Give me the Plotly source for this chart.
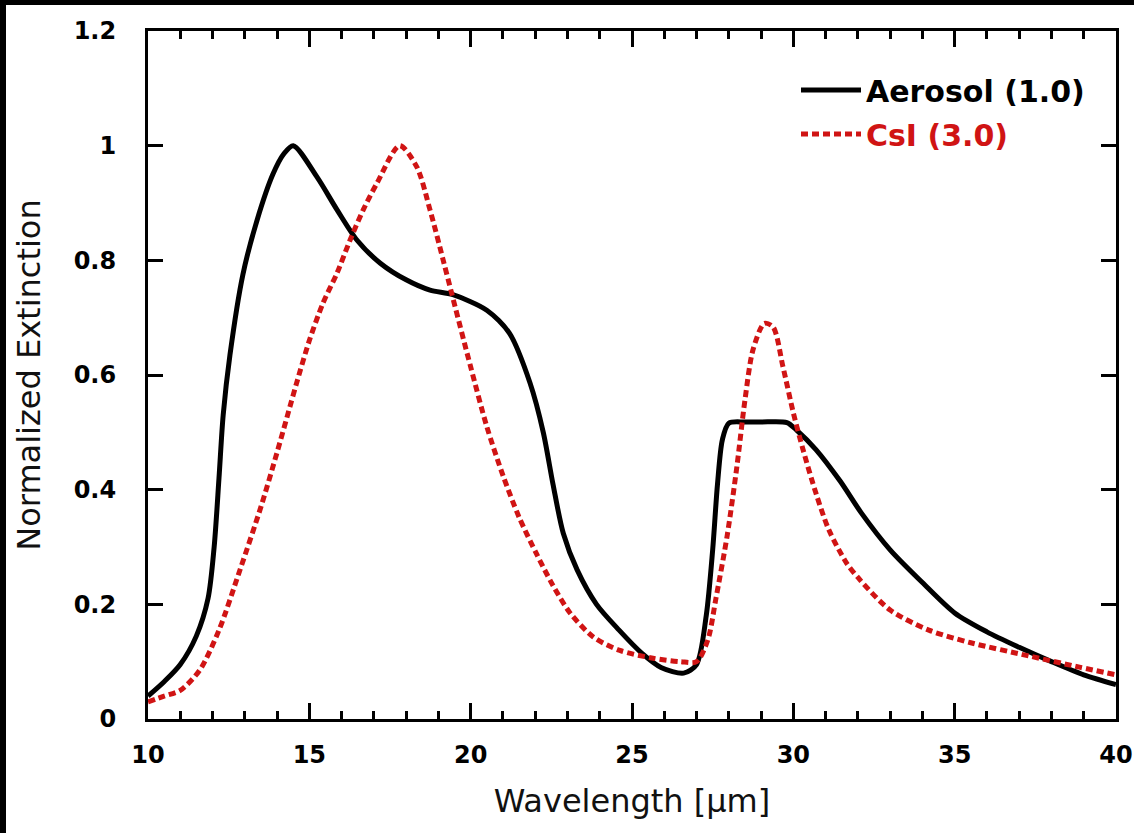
import plotly.graph_objects as go

# Aerosol (1.0) — black solid curve
aerosol_x = [10, 10.5, 11, 11.5, 11.86, 12.05, 12.2, 12.33, 12.54, 12.94, 13.38, 13.87, 14.2,
             14.5, 15.24, 15.86, 16.48, 17.2, 18.0, 18.74, 19.45, 20.5, 21.2, 21.84, 22.25,
             22.55, 22.87, 23.3, 23.9, 24.6, 25.3, 25.9, 26.6, 27.0, 27.3, 27.5, 27.65, 27.8,
             28.0, 28.5, 29.0, 29.8, 30.1, 30.7, 31.45, 32.1, 33.0, 34.0, 35.0, 36.0,
             37.0, 38.0, 39.0, 40.0]
aerosol_y = [0.04, 0.065, 0.095, 0.145, 0.21, 0.30, 0.42, 0.53, 0.635, 0.775, 0.87, 0.95, 0.985,
             1.0, 0.945, 0.888, 0.835, 0.795, 0.766, 0.748, 0.74, 0.713, 0.673, 0.586, 0.50,
             0.41, 0.324, 0.26, 0.20, 0.155, 0.115, 0.09, 0.08, 0.095, 0.18, 0.295, 0.41, 0.487,
             0.516, 0.518, 0.518, 0.517, 0.504, 0.47, 0.415, 0.36, 0.295, 0.238, 0.185, 0.152,
             0.125, 0.10, 0.077, 0.06]

# CsI (3.0) — red dashed curve
csi_x = [10, 10.5, 11, 11.6, 12.2, 12.85, 13.5, 14.0, 14.4, 14.6, 15.0, 15.42, 15.86, 16.26,
         16.67, 17.1, 17.8, 18.33, 18.74, 19.15, 19.4, 20.0, 20.5, 21.0, 21.5, 22.05, 22.55,
         23.08, 23.8, 24.6, 25.65, 26.5, 27.0, 27.35, 27.6, 27.95, 28.25, 28.5, 28.75, 29.1,
         29.37, 29.68, 30.0, 30.3, 30.7, 31.1, 31.65, 32.06, 33.0, 34.2, 35.5, 37.3, 38.9, 40]
csi_y = [0.03, 0.04, 0.05, 0.085, 0.155, 0.26, 0.37, 0.465, 0.545, 0.585, 0.66, 0.725, 0.778,
         0.835, 0.888, 0.935, 1.0, 0.963, 0.888, 0.80, 0.745, 0.614, 0.51, 0.425, 0.352,
         0.287, 0.233, 0.185, 0.143, 0.12, 0.106, 0.10, 0.10, 0.138, 0.21, 0.32, 0.44, 0.556,
         0.644, 0.69, 0.684, 0.614, 0.534, 0.47, 0.394, 0.33, 0.272, 0.243, 0.19, 0.155,
         0.133, 0.11, 0.09, 0.077]

series_names = ["<b>Aerosol (1.0)</b>", "<b><span style='color:#d01414'>CsI (3.0)</span></b>"]
x_label = "Wavelength [\u03bcm]"
y_label = "Normalized Extinction"

fig = go.Figure()
fig.add_trace(go.Scatter(x=aerosol_x, y=aerosol_y, mode="lines", name=series_names[0],
                         legendgroup="a", line=dict(color="black", width=5, shape="spline",
                                                    smoothing=0.8)))
fig.add_trace(go.Scatter(x=csi_x, y=csi_y, mode="lines", name=series_names[1],
                         legendgroup="b", line=dict(color="#d01414", width=5, shape="spline",
                                                    smoothing=0.8, dash="7px,4px")))

L, R, T, B = 148, 18, 31, 114
W, H = 1134, 833
pw, ph = W - L - R, H - T - B

axis_common = dict(showline=True, linecolor="black", linewidth=3, mirror="ticks",
                   ticks="inside", tickcolor="black", tickwidth=3, showgrid=False,
                   zeroline=False, automargin=False,
                   tickfont=dict(family="DejaVu Sans", size=24, color="black",
                                 weight="bold"),
                   title_font=dict(family="DejaVu Sans", size=32, color="#111"))

fig.update_xaxes(range=[10, 40], dtick=5, tick0=10, ticklen=16,
                 minor=dict(dtick=1, ticks="inside", ticklen=8, tickwidth=3, tickcolor="black"),
                 title_text=x_label, title_standoff=22, ticklabelstandoff=12,
                 **axis_common)
fig.update_yaxes(range=[0, 1.2], dtick=0.2, tick0=0, ticklen=15,
                 title_text=y_label, title_standoff=24, ticklabelstandoff=24,
                 **axis_common)

frame = dict(type="rect", xref="paper", yref="paper", fillcolor="black",
             line=dict(width=0), layer="above")
fig.update_layout(
    width=W, height=H, autosize=False,
    margin=dict(l=L, r=R, t=T, b=B),
    paper_bgcolor="white", plot_bgcolor="white",
    legend=dict(x=(1090 - L) / pw, y=(719 - 64) / ph, xanchor="right", yanchor="top",
                bgcolor="rgba(0,0,0,0)", traceorder="grouped", tracegroupgap=2,
                itemwidth=60,
                font=dict(family="DejaVu Sans", size=30, color="black")),
    shapes=[
        dict(frame, x0=-L / pw, x1=(W - L) / pw, y0=(719 - 5) / ph, y1=719 / ph),
        dict(frame, x0=-L / pw, x1=(6 - L) / pw, y0=(719 - H) / ph, y1=719 / ph),
    ],
)

post = ("document.documentElement.style.overflow='hidden';"
        "document.body.style.margin='0';document.body.style.overflow='hidden';")
fig.write_html("out.html", config={"displayModeBar": False, "responsive": False},
               post_script=post)
